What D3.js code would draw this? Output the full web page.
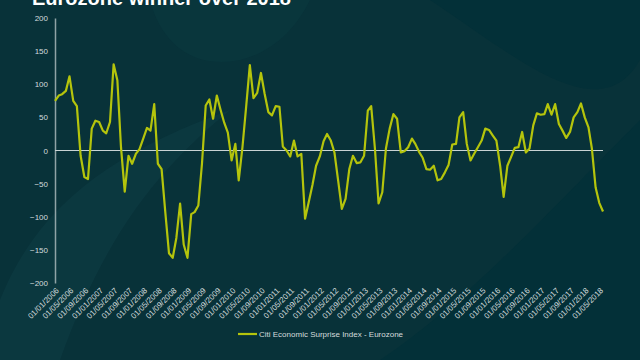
<!DOCTYPE html>
<html><head><meta charset="utf-8">
<script src="https://cdn.jsdelivr.net/npm/d3@7"></script>
<style>body{margin:0;background:#083239;} svg{display:block}</style>
</head><body><svg id="c" width="640" height="360"></svg>
<script>
const title = "Eurozone winner over 2018";
const seriesName = "Citi Economic Surprise Index - Eurozone";
const firstMonth = "2006-01-01";
const lastTick = "2018-05-01";
const values = [
  75, 83, 85, 90, 112, 75, 67, -8, -40, -43,
  33, 45, 43, 30, 26, 43, 130, 106, 5, -62,
  -8, -20, -5, 2, 18, 34, 30, 70, -20, -28,
  -92, -155, -162, -132, -80, -142, -162, -96, -93, -83,
  -20, 68, 77, 48, 83, 62, 42, 27, -15, 10,
  -45, 5, 65, 129, 79, 87, 117, 86, 58, 53,
  67, 66, 6, 0, -9, 15, -9, -5, -103, -78,
  -52, -23, -9, 14, 25, 15, -3, -46, -88, -73,
  -28, -8, -19, -18, -8, 60, 67, 3, -80, -63,
  3, 33, 55, 48, -3, -1, 5, 18, 10, -2,
  -11, -28, -29, -23, -45, -43, -33, -22, 9, 10,
  50, 58, 10, -15, -5, 5, 15, 33, 31, 23,
  15, -23, -70, -23, -10, 4, 5, 28, -3, 3,
  38, 56, 54, 55, 70, 54, 70, 40, 30, 19,
  28, 50, 58, 71, 50, 35, 3, -56, -79, -92
];
const yTicks = [-200, -150, -100, -50, 0, 50, 100, 150, 200];

const parse = d3.timeParse("%Y-%m-%d");
const fmt = d3.timeFormat("%d/%m/%Y");
const start = parse(firstMonth);
const data = values.map((v, i) => ({date: d3.timeMonth.offset(start, i), value: v}));
const xTicks = d3.timeMonth.every(4).range(start, d3.timeDay.offset(parse(lastTick), 1));

const svg = d3.select("#c");
const W = 640, H = 360;

// background + faint decorative swooshes
svg.append("rect").attr("width", W).attr("height", H).attr("fill", "#083239");
svg.append("path").attr("d", "M430,0 L640,0 L640,360 L380,360 C470,300 560,200 640,120 L640,60 C600,130 520,60 430,0 Z").attr("fill", "#033038");
svg.append("path").attr("d", "M0,300 C40,200 120,150 230,110 C170,160 110,220 60,360 L0,360 Z").attr("fill", "#0c3a41").attr("opacity", 0.8);
svg.append("path").attr("d", "M150,0 C160,40 190,70 240,60 C280,50 300,20 310,0 Z").attr("fill", "#0a3840").attr("opacity", 0.6);

const x = d3.scaleTime().domain([start, parse("2018-06-01")]).range([55, 603]);
const y = d3.scaleLinear().domain([-200, 200]).range([283, 18]);

// title (cut off at top)
svg.append("text").attr("x", 32).attr("y", 5)
  .attr("font-family", "Liberation Sans, Arial, sans-serif").attr("font-weight", "bold")
  .attr("font-size", 20).attr("fill", "#ffffff").text(title);

// y axis
const yAxis = d3.axisLeft(y).tickValues(yTicks).tickSize(0).tickPadding(7);
const gy = svg.append("g").attr("transform", "translate(55,0)").call(yAxis);
gy.select(".domain").attr("stroke", "#8fa3a6").attr("stroke-width", 1.5);
gy.selectAll("text").attr("fill", "#d4dcdd").attr("font-size", 8)
  .attr("font-family", "Liberation Sans, Arial, sans-serif");

// zero line
svg.append("line").attr("x1", 55).attr("x2", 603).attr("y1", y(0)).attr("y2", y(0))
  .attr("stroke", "#c9d3d4").attr("stroke-width", 1);

// x axis labels
const xAxis = d3.axisBottom(x).tickValues(xTicks).tickFormat(fmt).tickSize(0).tickPadding(0);
const gx = svg.append("g").attr("transform", "translate(0,285)").call(xAxis);
gx.select(".domain").remove();
gx.selectAll("text").attr("fill", "#d4dcdd").attr("font-size", 8)
  .attr("font-family", "Liberation Sans, Arial, sans-serif")
  .attr("text-anchor", "end").attr("dy", 0)
  .attr("transform", "translate(4,6) rotate(-45)");

// line
const line = d3.line().x(d => x(d.date)).y(d => y(d.value));
svg.append("path").datum(data).attr("d", line).attr("fill", "none")
  .attr("stroke", "#b4c40c").attr("stroke-width", 2.2).attr("stroke-linejoin", "round");

// legend
svg.append("line").attr("x1", 238).attr("x2", 257).attr("y1", 334).attr("y2", 334)
  .attr("stroke", "#b4c40c").attr("stroke-width", 2.2);
svg.append("text").attr("x", 259).attr("y", 337).attr("font-size", 8)
  .attr("font-family", "Liberation Sans, Arial, sans-serif").attr("fill", "#d4dcdd").text(seriesName);
</script>
</body></html>
